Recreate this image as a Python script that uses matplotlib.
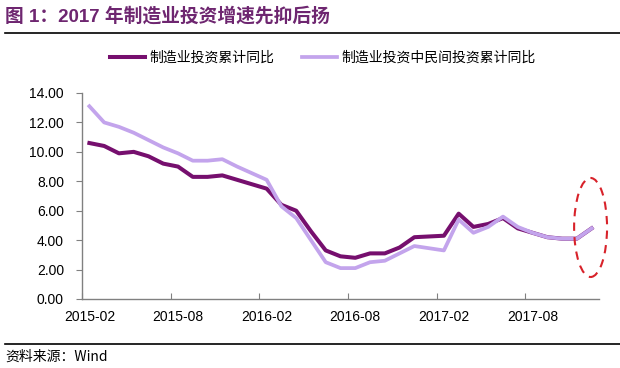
import matplotlib
matplotlib.use("Agg")
import matplotlib.pyplot as plt
from matplotlib.patches import Ellipse
import numpy as np

plt.rcParams["font.family"] = ["Liberation Sans", "Noto Sans CJK SC"]

# monthly positions from 2015-02 (January values are not published)
months = ["2015-02", "2015-03", "2015-04", "2015-05", "2015-06", "2015-07",
          "2015-08", "2015-09", "2015-10", "2015-11", "2015-12",
          "2016-02", "2016-03", "2016-04", "2016-05", "2016-06", "2016-07",
          "2016-08", "2016-09", "2016-10", "2016-11", "2016-12",
          "2017-02", "2017-03", "2017-04", "2017-05", "2017-06", "2017-07",
          "2017-08", "2017-09", "2017-10", "2017-11", "2017-12"]
manufacturing = [10.6, 10.4, 9.9, 10.0, 9.7, 9.2, 9.0, 8.3, 8.3, 8.4, 8.1,
                 7.5, 6.4, 6.0, 4.6, 3.3, 2.9, 2.8, 3.1, 3.1, 3.5, 4.2,
                 4.3, 5.8, 4.9, 5.1, 5.5, 4.8, 4.5, 4.2, 4.1, 4.1, 4.8]
private = [13.1, 12.0, 11.7, 11.3, 10.8, 10.3, 9.9, 9.4, 9.4, 9.5, 9.0,
           8.1, 6.3, 5.5, 4.0, 2.5, 2.1, 2.1, 2.5, 2.6, 3.1, 3.6,
           3.3, 5.4, 4.5, 4.9, 5.6, 4.9, 4.5, 4.2, 4.1, 4.1, 4.8]
tick_labels = ["2015-02", "2015-08", "2016-02", "2016-08", "2017-02", "2017-08"]

DARK = "#760f6e"
LIGHT = "#c3a4ec"


def month_index(label):
    year, month = label.split("-")
    return (int(year) - 2015) * 12 + int(month) - 2


x = np.array([month_index(m) for m in months])
tick_pos = np.array([month_index(t) for t in tick_labels])

fig = plt.figure(figsize=(6.2, 3.68), dpi=100)
ax = fig.add_axes([82 / 620, 1 - 299 / 368, (599 - 82) / 620, (299 - 93) / 368])

ax.plot(x, manufacturing, color=DARK, lw=2.9, label="制造业投资累计同比",
        solid_joinstyle="round", zorder=2)
ax.plot(x, private, color=LIGHT, lw=2.7, label="制造业投资中民间投资累计同比",
        solid_joinstyle="round", zorder=3)

ax.add_patch(Ellipse((33.93, 4.86), 2.23, 6.73, fill=False, ec="#d8222a",
                     lw=1.5, ls=(0, (4, 3)), zorder=4, clip_on=False))

ax.set_xlim(-0.5, 34.5)
ax.set_ylim(0, 14)
ax.set_yticks(np.arange(0, 15, 2))
ax.set_yticklabels([f"{v:.2f}" for v in np.arange(0, 15, 2)])

# tick marks sit at category boundaries, labels at category centres
ax.set_xticks(tick_pos - 0.5)
ax.set_xticklabels([])
ax.set_xticks(tick_pos, minor=True)
ax.set_xticklabels(tick_labels, minor=True)
ax.tick_params(axis="x", which="major", direction="in", length=4, color="#808080")
ax.tick_params(axis="x", which="minor", length=0, pad=8, labelsize=10)
ax.tick_params(axis="y", direction="out", length=4, color="#808080", pad=9,
               labelsize=10)

for side in ["top", "right"]:
    ax.spines[side].set_visible(False)
for side in ["left", "bottom"]:
    ax.spines[side].set_color("#808080")
    ax.spines[side].set_linewidth(1.0)

fig.legend(loc="center left", bbox_to_anchor=(110 / 620, 1 - 58 / 368),
           ncol=2, frameon=False, borderpad=0, borderaxespad=0,
           handlelength=2.5, handletextpad=0.35, columnspacing=2.0,
           prop={"family": ["Noto Sans CJK SC"], "size": 10})

fig.text(5 / 620, 1 - 16 / 368, "图 1：2017 年制造业投资增速先抑后扬",
         family=["Liberation Sans", "Noto Sans CJK SC"], fontweight="bold",
         fontsize=13.5, color="#6e2670", va="center", ha="left")
fig.add_artist(plt.Line2D([5 / 620, 1], [1 - 33 / 368] * 2, color="black", lw=1.2))
fig.add_artist(plt.Line2D([5 / 620, 1], [1 - 344 / 368] * 2, color="black", lw=1.2))
fig.text(5 / 620, 1 - 357 / 368, "资料来源：Wind",
         family=["Noto Sans CJK SC", "Liberation Sans"], fontsize=10,
         color="black", va="center", ha="left")

fig.savefig("out.png", dpi=100, facecolor="white")
